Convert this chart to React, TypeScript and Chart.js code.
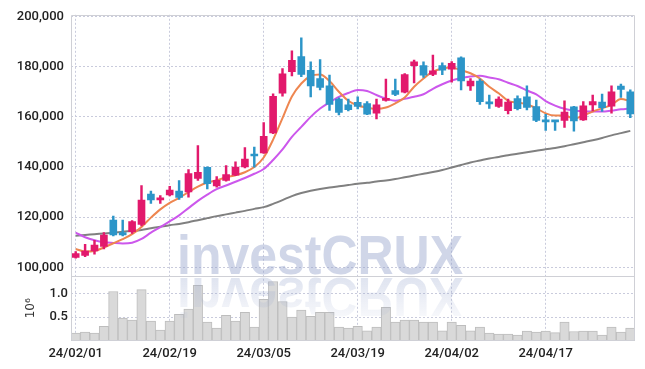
import React, { useEffect, useRef } from 'react';
import { Chart, registerables } from 'chart.js';

Chart.register(...registerables);

// trading days (YY/MM/DD)
const dates = [
  '24/02/01', '24/02/02', '24/02/05', '24/02/06', '24/02/07', '24/02/08', '24/02/13', '24/02/14', '24/02/15', '24/02/16',
  '24/02/19', '24/02/20', '24/02/21', '24/02/22', '24/02/23', '24/02/26', '24/02/27', '24/02/28', '24/02/29', '24/03/04',
  '24/03/05', '24/03/06', '24/03/07', '24/03/08', '24/03/11', '24/03/12', '24/03/13', '24/03/14', '24/03/15', '24/03/18',
  '24/03/19', '24/03/20', '24/03/21', '24/03/22', '24/03/25', '24/03/26', '24/03/27', '24/03/28', '24/03/29', '24/04/01',
  '24/04/02', '24/04/03', '24/04/04', '24/04/05', '24/04/08', '24/04/09', '24/04/11', '24/04/12', '24/04/15', '24/04/16',
  '24/04/17', '24/04/18', '24/04/19', '24/04/22', '24/04/23', '24/04/24', '24/04/25', '24/04/26', '24/04/29', '24/04/30',
];
const tickLabels = ['24/02/01', '24/02/19', '24/03/05', '24/03/19', '24/04/02', '24/04/17'];

// prices in thousand won
const openP = [
  103.9, 104.7, 106.5, 108.3, 118.8, 113.8, 114.2, 117.1, 129.2, 126.9,
  128.9, 130.4, 130.1, 135.4, 139.9, 132.5, 134.6, 136.7, 140.0, 144.6,
  145.6, 153.6, 169.4, 178.0, 184.0, 178.6, 175.3, 172.4, 167.1, 164.8,
  165.8, 165.3, 161.5, 166.6, 170.5, 169.8, 180.4, 180.4, 176.9, 180.4,
  179.0, 183.5, 172.3, 174.3, 165.6, 164.2, 162.5, 167.3, 168.0, 164.1,
  158.3, 158.3, 158.6, 164.0, 158.8, 164.8, 165.9, 164.3, 172.3, 170.0,
];
const highP = [
  106.3, 109.2, 110.8, 113.8, 120.4, 118.8, 118.6, 132.6, 130.4, 128.6,
  132.3, 134.6, 139.0, 148.5, 140.1, 136.2, 140.6, 142.1, 147.7, 147.9,
  157.7, 169.2, 179.3, 186.3, 191.5, 181.9, 182.8, 176.7, 167.6, 167.1,
  168.0, 166.1, 167.1, 175.1, 175.1, 177.3, 182.6, 181.9, 184.6, 181.5,
  182.0, 183.9, 175.3, 175.1, 168.7, 168.0, 167.1, 168.4, 172.4, 166.7,
  161.0, 158.4, 166.4, 164.2, 166.1, 168.7, 169.1, 172.4, 173.1, 170.8,
];
const lowP = [
  103.6, 104.2, 105.2, 107.3, 112.5, 112.5, 113.5, 116.5, 125.5, 125.5,
  128.5, 127.1, 128.0, 134.6, 131.3, 132.0, 134.3, 136.5, 139.6, 139.9,
  145.4, 153.3, 168.2, 176.3, 176.0, 167.9, 170.7, 162.6, 160.8, 162.4,
  163.2, 160.9, 159.2, 166.3, 168.4, 169.5, 173.5, 175.7, 176.4, 176.8,
  173.8, 170.7, 170.5, 165.0, 163.4, 163.8, 161.2, 162.8, 162.8, 158.1,
  154.6, 154.6, 155.8, 154.3, 158.6, 162.4, 162.2, 161.5, 167.7, 159.7,
];
const closeP = [
  105.5, 106.5, 108.9, 112.8, 112.9, 112.9, 118.2, 126.8, 126.9, 127.7,
  130.8, 127.9, 137.4, 137.9, 133.3, 134.7, 137.0, 140.0, 143.2, 144.4,
  152.2, 168.2, 177.2, 182.5, 176.9, 172.3, 171.7, 165.0, 161.8, 162.9,
  164.2, 161.1, 164.8, 167.4, 168.9, 176.9, 181.9, 176.6, 178.4, 178.6,
  181.3, 174.3, 174.3, 166.1, 165.2, 167.1, 165.9, 163.3, 163.8, 158.6,
  158.0, 158.0, 161.9, 158.4, 164.4, 166.1, 163.7, 170.0, 170.9, 161.2,
];

// moving averages (thousand won)
const maShort = [
  107.3, 106.3, 106.5, 107.9, 109.6, 111.2, 113.2, 116.1, 119.8, 123.1,
  125.7, 127.7, 130.0, 132.2, 133.8, 134.7, 135.9, 136.7, 137.9, 140.0,
  143.8, 150.9, 159.5, 168.1, 173.3, 176.3, 176.9, 174.3, 170.0, 166.4,
  164.5, 163.7, 163.2, 163.7, 165.4, 167.7, 172.0, 175.3, 178.0, 179.3,
  179.7, 178.6, 177.4, 175.3, 172.0, 169.4, 166.4, 165.7, 165.0, 163.4,
  161.4, 160.5, 160.5, 159.4, 160.5, 162.1, 163.4, 164.8, 167.1, 166.3,
];
const maMid = [
  113.8, 112.0, 110.8, 110.0, 109.7, 109.5, 109.8, 111.3, 113.8, 116.0,
  118.3, 120.7, 123.6, 126.5, 129.0, 131.2, 132.6, 134.1, 135.6, 137.3,
  139.2, 142.8, 147.0, 152.0, 156.0, 160.0, 163.3, 165.8, 168.0, 169.5,
  170.7, 170.3, 168.7, 167.3, 166.4, 167.2, 168.0, 169.0, 171.2, 173.0,
  174.5, 175.5, 176.1, 176.4, 175.7, 175.0, 173.6, 172.3, 170.5, 169.0,
  166.3, 164.5, 163.2, 162.5, 162.2, 162.1, 162.1, 162.5, 163.0, 163.4,
];
const maLong = [
  112.6, 112.9, 113.2, 113.5, 113.8, 114.2, 114.5, 114.9, 115.6, 116.2,
  116.8, 117.3, 118.0, 118.8, 119.6, 120.4, 121.1, 121.8, 122.5, 123.3,
  124.0, 125.3, 126.8, 128.4, 129.6, 130.5, 131.2, 131.8, 132.3, 132.8,
  133.3, 133.7, 134.2, 134.6, 135.2, 135.9, 136.6, 137.3, 138.0, 138.8,
  139.8, 140.8, 141.8, 142.6, 143.4, 144.0, 144.7, 145.3, 145.9, 146.5,
  147.1, 147.6, 148.3, 149.1, 149.9, 150.7, 151.6, 152.6, 153.5, 154.4,
];

// volume in millions of shares
const volume = [
  0.167, 0.19, 0.167, 0.31, 1.04, 0.48, 0.44, 1.08, 0.42, 0.23,
  0.42, 0.56, 0.67, 1.17, 0.40, 0.27, 0.54, 0.42, 0.60, 0.29,
  0.875, 1.25, 0.83, 0.50, 0.65, 0.52, 0.60, 0.60, 0.29, 0.27,
  0.31, 0.215, 0.29, 0.71, 0.40, 0.44, 0.44, 0.40, 0.40, 0.215,
  0.40, 0.33, 0.215, 0.29, 0.167, 0.146, 0.146, 0.125, 0.21, 0.19,
  0.21, 0.175, 0.40, 0.20, 0.21, 0.21, 0.125, 0.29, 0.19, 0.27,
];

const priceTicks = [100, 120, 140, 160, 180, 200];
const volumeTicks = [0.5, 1.0];

const GRID = '#c9cbdc';
const UP = '#e2196c';
const DOWN = '#2c95c8';

const framePlugin = {
  id: 'frame',
  afterDatasetsDraw(chart: any) {
    const { ctx, chartArea: a } = chart;
    const ys = chart.scales.y;
    ctx.save();
    ctx.strokeStyle = '#cfd0d6';
    ctx.lineWidth = 1;
    ctx.beginPath();
    ctx.rect(Math.round(a.left) + 0.5, Math.round(a.top) + 0.5, Math.round(a.right - a.left) - 1, Math.round(a.bottom - a.top) - 1);
    ctx.moveTo(a.left, Math.round(ys.bottom) + 0.5);
    ctx.lineTo(a.right, Math.round(ys.bottom) + 0.5);
    ctx.stroke();
    ctx.restore();
  },
};

const watermarkPlugin = {
  id: 'watermark',
  afterDraw(chart: any) {
    const { ctx } = chart;
    const text = 'investCRUX';
    ctx.save();
    ctx.font = 'bold 56px "Liberation Sans"';
    const w = ctx.measureText(text).width;
    const sx = 286 / w;
    ctx.translate(177, 274);
    ctx.scale(sx, 1);
    ctx.textBaseline = 'alphabetic';
    ctx.fillStyle = 'rgba(150,165,205,0.45)';
    ctx.fillText(text, 0, 0);
    ctx.scale(1, -1);
    ctx.translate(0, -4);
    const g = ctx.createLinearGradient(0, 0, 0, -44);
    g.addColorStop(0, 'rgba(150,165,205,0.30)');
    g.addColorStop(1, 'rgba(150,165,205,0.05)');
    ctx.fillStyle = g;
    ctx.fillText(text, 0, 0);
    ctx.restore();
  },
};

export default function App() {
  const ref = useRef<HTMLCanvasElement>(null);
  useEffect(() => {
    const colors = closeP.map((c, i) => (c >= openP[i] ? UP : DOWN));
    const font = { family: 'Roboto', size: 13, weight: '500' as any };
    const chart = new Chart(ref.current as HTMLCanvasElement, {
      type: 'bar',
      data: {
        labels: dates,
        datasets: [
          {
            type: 'bar', label: 'volume', data: volume, yAxisID: 'yVol',
            backgroundColor: '#d9d9d9', borderColor: '#bdbdbd', borderWidth: 1,
            barPercentage: 1, categoryPercentage: 1, grouped: false, order: 10,
          } as any,
          {
            type: 'line', label: 'MA long', data: maLong, yAxisID: 'y',
            borderColor: '#808080', borderWidth: 2, pointRadius: 0, cubicInterpolationMode: 'monotone', order: 9,
          },
          {
            type: 'line', label: 'MA mid', data: maMid, yAxisID: 'y',
            borderColor: '#cc57ec', borderWidth: 2, pointRadius: 0, cubicInterpolationMode: 'monotone', order: 8,
          },
          {
            type: 'line', label: 'MA short', data: maShort, yAxisID: 'y',
            borderColor: '#ee8650', borderWidth: 2, pointRadius: 0, cubicInterpolationMode: 'monotone', order: 7,
          },
          {
            type: 'bar', label: 'wick', data: lowP.map((l, i) => [l, highP[i]]), yAxisID: 'y',
            backgroundColor: colors, barThickness: 1.8, grouped: false, borderWidth: 0, order: 2,
          } as any,
          {
            type: 'bar', label: 'body', data: openP.map((o, i) => [o, closeP[i]]), yAxisID: 'y',
            backgroundColor: colors, barThickness: 7, grouped: false, borderWidth: 0, minBarLength: 2, order: 1,
          } as any,
        ],
      },
      options: {
        responsive: false,
        animation: false,
        devicePixelRatio: 1,
        layout: { padding: { top: 12, right: 10, left: 0, bottom: 0 } },
        plugins: { legend: { display: false }, tooltip: { enabled: false } },
        scales: {
          x: {
            type: 'category',
            offset: true,
            grid: {
              offset: false,
              drawTicks: false,
              lineWidth: 1,
              color: (c: any) => (c.index !== undefined && tickLabels.includes(dates[c.index]) ? GRID : 'rgba(0,0,0,0)'),
            },
            border: { display: false, dash: [2, 2] },
            ticks: {
              autoSkip: false, maxRotation: 0, minRotation: 0, padding: 5, color: '#222', font,
              callback: (_v: any, i: number) => (tickLabels.includes(dates[i]) ? dates[i] : ''),
            },
            afterFit: (s: any) => { s.height = 28; },
          },
          yVol: {
            position: 'left', stack: 'panes', stackWeight: 66, min: 0, max: 1.375,
            afterBuildTicks: (s: any) => { s.ticks = volumeTicks.map((v) => ({ value: v })); },
            grid: { drawTicks: false, color: GRID },
            border: { display: false, dash: [2, 2] },
            ticks: { padding: 3, color: '#222', font, callback: (v: any) => Number(v).toFixed(1) },
            title: { display: true, text: '10⁶', color: '#333', font: { family: 'DejaVu Sans', size: 12 }, padding: { top: 24, bottom: 0 } },
            afterFit: (s: any) => { s.width = 71; },
          },
          y: {
            position: 'left', stack: 'panes', stackWeight: 263, min: 96.7, max: 200.7,
            afterBuildTicks: (s: any) => { s.ticks = priceTicks.map((v) => ({ value: v })); },
            grid: { drawTicks: false, color: GRID },
            border: { display: false, dash: [2, 2] },
            ticks: { padding: 7, color: '#222', font, callback: (v: any) => `${v},000` },
            afterFit: (s: any) => { s.width = 71; },
          },
        } as any,
      },
      plugins: [framePlugin, watermarkPlugin],
    });
    return () => chart.destroy();
  }, []);
  return (
    <div style={{ position: 'absolute', left: 0, top: 0, width: 645, height: 369, background: '#fff' }}>
      <canvas ref={ref} width={645} height={369} style={{ display: 'block', width: 645, height: 369 }} />
    </div>
  );
}
